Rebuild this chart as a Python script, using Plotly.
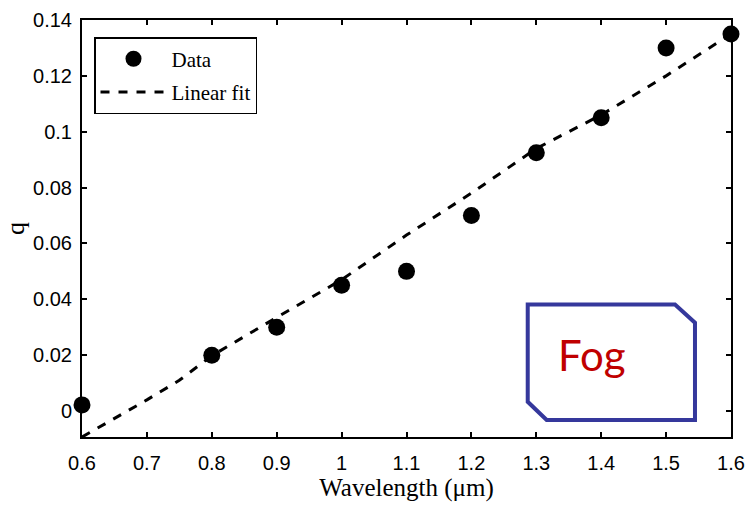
import plotly.graph_objects as go

wavelength = [0.6, 0.8, 0.9, 1.0, 1.1, 1.2, 1.3, 1.4, 1.5, 1.6]
q_data = [0.0022, 0.020, 0.030, 0.045, 0.050, 0.070, 0.0925, 0.105, 0.130, 0.135]

fit_x = [0.6, 0.7, 0.75, 0.8, 0.9, 1.0, 1.1, 1.2, 1.3, 1.4, 1.5, 1.6]
fit_y = [-0.0093, 0.004, 0.011, 0.0198, 0.0335, 0.047, 0.063, 0.078, 0.094, 0.106, 0.120, 0.135]

x_ticks = [0.6, 0.7, 0.8, 0.9, 1.0, 1.1, 1.2, 1.3, 1.4, 1.5, 1.6]
x_ticktext = ["0.6", "0.7", "0.8", "0.9", "1", "1.1", "1.2", "1.3", "1.4", "1.5", "1.6"]
y_ticks = [0, 0.02, 0.04, 0.06, 0.08, 0.10, 0.12, 0.14]
y_ticktext = ["0", "0.02", "0.04", "0.06", "0.08", "0.1", "0.12", "0.14"]

fig = go.Figure()
fig.add_trace(go.Scatter(
    x=fit_x, y=fit_y, mode="lines", name="Linear fit", legendrank=2, legendgroup="fit",
    line=dict(color="black", width=3, dash="dash"),
))
fig.add_trace(go.Scatter(
    x=wavelength, y=q_data, mode="markers", name="Data", legendrank=1, legendgroup="data",
    marker=dict(color="black", size=17, symbol="circle"),
    cliponaxis=False,
))

# Fog annotation box (chamfered rectangle)
fog_path = ("M 1.2868 0.0381 L 1.5137 0.0381 L 1.5445 0.0316 L 1.5445 -0.0032 "
            "L 1.316 -0.0032 L 1.2868 0.0033 Z")
fig.add_shape(type="path", path=fog_path, xref="x", yref="y",
              line=dict(color="#35389c", width=4), fillcolor="rgba(0,0,0,0)")
fig.add_annotation(x=1.385, y=0.0201, xref="x", yref="y", text="Fog",
                   showarrow=False, font=dict(family="Lato", size=42, color="#c00000"))

axis_common = dict(
    showline=True, linecolor="black", linewidth=2, mirror="ticks",
    ticks="inside", ticklen=5, tickcolor="black", tickwidth=1.5,
    showgrid=False, zeroline=False, automargin=False,
    tickfont=dict(family="Liberation Sans", size=20, color="black"),
)

fig.update_xaxes(range=[0.6, 1.6], tickvals=x_ticks, ticktext=x_ticktext,
                 ticklabelstandoff=7,
                 title=dict(text="Wavelength (μm)", standoff=4,
                            font=dict(family="Liberation Serif", size=25, color="black")),
                 **axis_common)
fig.update_yaxes(range=[-0.0093, 0.14], tickvals=y_ticks, ticktext=y_ticktext,
                 ticklabelstandoff=4,
                 title=dict(text="q", standoff=1,
                            font=dict(family="Liberation Serif", size=26, color="black")),
                 **axis_common)

fig.update_layout(
    width=746, height=513,
    margin=dict(l=82, r=15, t=20, b=76),
    paper_bgcolor="white", plot_bgcolor="white",
    showlegend=True,
    legend=dict(
        x=0.0185, y=0.959, xanchor="left", yanchor="top",
        bordercolor="black", borderwidth=1.5, bgcolor="white",
        font=dict(family="Liberation Serif", size=21, color="black"),
        traceorder="grouped", tracegroupgap=3, itemwidth=66,
    ),
)

fig.write_html("out.html",
               config={"displayModeBar": False},
               post_script="document.body.style.margin='0';document.body.style.overflow='hidden';")
